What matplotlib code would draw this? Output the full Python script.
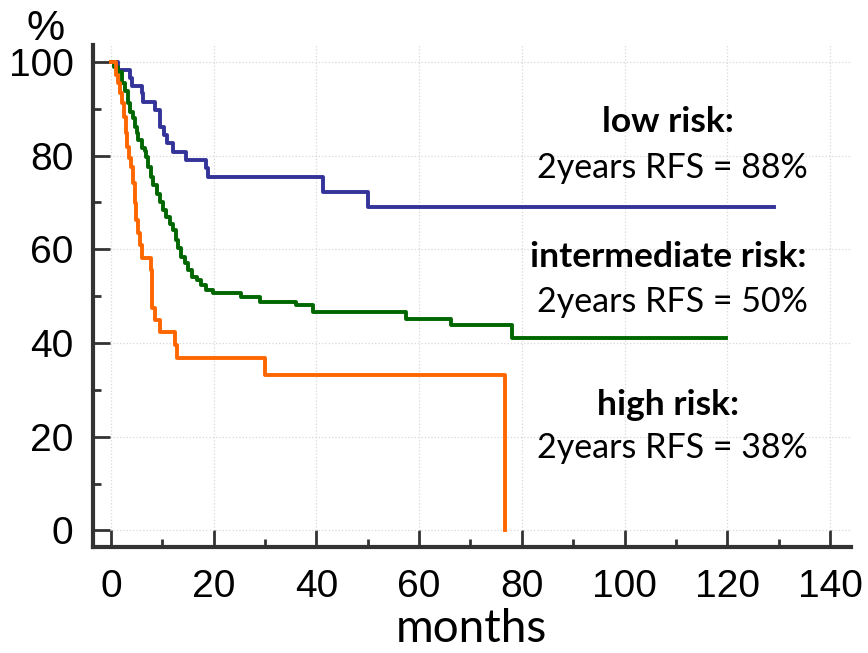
import matplotlib
matplotlib.use('Agg')
from matplotlib import pyplot as plt
from matplotlib.ticker import MultipleLocator

# Kaplan-Meier step data (months, relapse-free survival %)
months_low = [0, 1.4, 3.7, 4.2, 6.0, 6.3, 8.6, 9.5, 10.3, 11.0, 12.1, 14.7, 18.6, 18.9, 41.3, 50.1, 129.0]
rfs_low = [100, 98.3, 96.5, 94.9, 93.3, 91.5, 89.7, 86.2, 84.4, 82.6, 80.8, 79.1, 77.3, 75.5, 72.3, 69.1, 69.1]

months_int = [0, 0.7, 1.4, 2.1, 2.7, 3.4, 3.7, 4.3, 4.7, 5.0, 5.3, 6.0, 6.6, 6.9, 7.3, 7.9, 8.2, 8.9,
              9.5, 10.2, 10.8, 11.5, 12.1, 12.6, 13.1, 13.7, 14.4, 15.0, 15.7, 16.7, 17.6, 18.6, 19.9,
              25.4, 29.0, 36.1, 39.4, 57.5, 66.3, 78.0, 119.8]
rfs_int = [100, 99.0, 97.9, 95.4, 93.7, 91.2, 89.4, 88.0, 86.2, 84.8, 83.3, 81.6, 80.9, 79.8, 77.6, 75.5,
           73.7, 71.9, 70.2, 68.4, 66.9, 65.4, 64.1, 62.0, 60.2, 58.4, 57.0, 55.6, 54.1, 53.4, 52.4, 51.4,
           50.6, 49.9, 48.8, 48.1, 46.7, 45.2, 43.8, 41.0, 41.0]

months_high = [0, 1.0, 1.4, 1.75, 2.1, 2.5, 2.9, 3.2, 3.6, 4.0, 4.3, 4.7, 4.9, 5.3, 5.6, 6.0, 7.9, 8.1,
               8.6, 9.5, 12.5, 12.8, 30.0, 76.8]
rfs_high = [100, 97.2, 95.4, 93.3, 91.2, 88.3, 84.8, 81.9, 79.4, 77.6, 74.1, 69.8, 66.2, 63.4, 60.9,
            58.1, 55.6, 47.4, 44.9, 42.4, 39.5, 36.7, 33.1, 0]

group_titles = ['low risk:', 'intermediate risk:', 'high risk:']
group_rfs = ['2years RFS = 88%', '2years RFS = 50%', '2years RFS = 38%']

fig = plt.figure(figsize=(8.68, 6.53), dpi=100)
ax = fig.add_axes([0.107, 0.162, 0.873, 0.769])

ax.step(months_low, rfs_low, where='post', color='#333399', lw=2.8)
ax.step(months_int, rfs_int, where='post', color='#006600', lw=2.8)
ax.step(months_high, rfs_high, where='post', color='#ff6600', lw=2.8)

ax.set_xlim(-3.5, 144)
ax.set_ylim(-3.6, 103.6)
ax.xaxis.set_major_locator(MultipleLocator(20))
ax.xaxis.set_minor_locator(MultipleLocator(10))
ax.yaxis.set_major_locator(MultipleLocator(20))
ax.yaxis.set_minor_locator(MultipleLocator(10))

ax.grid(True, which='major', color='#d8d8d8', ls=':', lw=0.9)
for s in ['top', 'right']:
    ax.spines[s].set_visible(False)
for s in ['left', 'bottom']:
    ax.spines[s].set_linewidth(3)
    ax.spines[s].set_color('#333333')

ax.tick_params(which='major', direction='in', length=12, width=2, color='#333333',
               labelsize=28, pad=14)
ax.tick_params(axis='x', which='major', pad=16)
ax.tick_params(which='minor', direction='in', length=6, width=2, color='#333333')
for lab in ax.get_xticklabels() + ax.get_yticklabels():
    lab.set_family('Liberation Sans')

ax.set_xlabel('months', fontsize=33, family='Lato', labelpad=2)
fig.text(0.053, 1 - 40 / 653, '%', fontsize=31, family='Liberation Sans', ha='center', va='baseline')

# risk group annotations
title_y = [122, 257, 405]
rfs_y = [168, 302, 448]
for t, r, ty, ry in zip(group_titles, group_rfs, title_y, rfs_y):
    fig.text(668 / 868, 1 - ty / 653, t, fontsize=25.5, family='Lato', weight='bold',
             ha='center', va='center')
    fig.text(672 / 868, 1 - ry / 653, r, fontsize=24.5, family='Lato', ha='center', va='center')

fig.savefig('out.png', dpi=100)
